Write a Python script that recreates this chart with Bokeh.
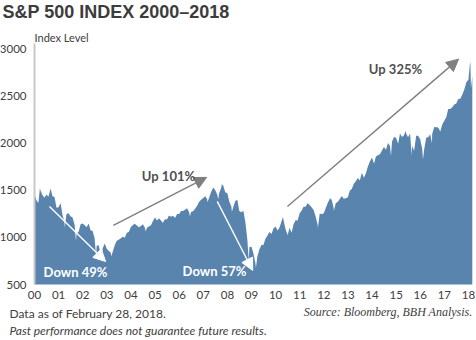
import pandas as pd
from bokeh.plotting import figure
from bokeh.models import Label, Arrow, NormalHead, ColumnDataSource
from bokeh.core.properties import value
from bokeh.embed import file_html
from bokeh.resources import INLINE

# ---------------- data ----------------
first_month_end = "2000-01-31"
monthly_close = [
    1394, 1366, 1499, 1452, 1421, 1455, 1431, 1518, 1437, 1429, 1315, 1320,  # 2000
    1366, 1240, 1160, 1249, 1256, 1224, 1211, 1134, 1041, 1060, 1139, 1148,  # 2001
    1130, 1107, 1147, 1077, 1067, 990, 912, 916, 815, 886, 936, 880,         # 2002
    856, 841, 848, 917, 964, 975, 990, 1008, 996, 1051, 1058, 1112,          # 2003
    1131, 1145, 1126, 1107, 1121, 1141, 1102, 1104, 1115, 1130, 1174, 1212,  # 2004
    1181, 1204, 1181, 1157, 1192, 1191, 1234, 1220, 1229, 1207, 1249, 1248,  # 2005
    1280, 1281, 1295, 1311, 1270, 1270, 1277, 1304, 1336, 1378, 1401, 1418,  # 2006
    1438, 1407, 1421, 1482, 1531, 1503, 1455, 1474, 1527, 1549, 1481, 1468,  # 2007
    1379, 1331, 1323, 1386, 1400, 1280, 1267, 1283, 1165, 969, 896, 903,     # 2008
    826, 735, 798, 873, 919, 919, 987, 1021, 1057, 1036, 1096, 1115,         # 2009
    1074, 1104, 1169, 1187, 1089, 1031, 1102, 1049, 1141, 1183, 1181, 1258,  # 2010
    1286, 1327, 1326, 1364, 1345, 1321, 1292, 1219, 1131, 1253, 1247, 1258,  # 2011
    1312, 1366, 1408, 1398, 1310, 1362, 1379, 1407, 1441, 1412, 1416, 1426,  # 2012
    1498, 1515, 1569, 1598, 1631, 1606, 1686, 1633, 1682, 1757, 1806, 1848,  # 2013
    1783, 1859, 1872, 1884, 1924, 1960, 1931, 2003, 1972, 2018, 2068, 2059,  # 2014
    1995, 2105, 2068, 2086, 2107, 2063, 2104, 1972, 1920, 2079, 2080, 2044,  # 2015
    1940, 1932, 2060, 2065, 2097, 2099, 2174, 2171, 2168, 2126, 2199, 2239,  # 2016
    2279, 2364, 2363, 2384, 2412, 2423, 2470, 2472, 2519, 2575, 2648, 2674,  # 2017
    2824, 2714,                                                              # 2018
]
extreme_dates = [
    "2000-01-03", "2000-03-24", "2000-09-01", "2001-04-04", "2001-09-21",
    "2002-07-23", "2002-10-09", "2003-03-11", "2004-08-12", "2006-06-13",
    "2007-03-05", "2007-08-15", "2007-10-09", "2008-03-10", "2008-11-20",
    "2009-03-09", "2010-04-23", "2010-07-02", "2011-10-03", "2012-04-02",
    "2012-06-01", "2014-10-15", "2015-05-21", "2015-08-25", "2016-02-11",
    "2016-06-27", "2018-01-26", "2018-02-08",
]
extreme_values = [
    1455, 1527, 1520, 1103, 966,
    797, 777, 800, 1064, 1224,
    1374, 1406, 1565, 1273, 752,
    677, 1217, 1022, 1099, 1419,
    1278, 1862, 2131, 1867, 1829,
    2000, 2872, 2581,
]
year_ticks = list(range(2000, 2019))
year_labels = ["00", "01", "02", "03", "04", "05", "06", "07", "08", "09",
               "10", "11", "12", "13", "14", "15", "16", "17", "18"]
level_ticks = [500, 1000, 1500, 2000, 2500, 3000]
level_labels = ["500", "1000", "1500", "2000", "2500", "3000"]

# annotations: (x_start, y_start, x_end, y_end) in years / index level
arrow_down_1 = (2000.62, 1329, 2002.95, 744)
arrow_up_1 = (2003.27, 1127, 2007.14, 1638)
arrow_down_2 = (2007.58, 1383, 2009.05, 649)
arrow_up_2 = (2010.49, 1329, 2017.59, 2894)

# ---------------- build ----------------
def dec_year(ts):
    days = 366 if ts.is_leap_year else 365
    return ts.year + (ts.dayofyear - 1) / days

month_dates = pd.date_range(start=first_month_end, periods=len(monthly_close),
                            freq=pd.offsets.MonthEnd())
df = pd.concat([
    pd.DataFrame({"date": month_dates, "value": monthly_close}),
    pd.DataFrame({"date": pd.to_datetime(extreme_dates), "value": extreme_values}),
]).sort_values("date").reset_index(drop=True)
df["x"] = [dec_year(d) for d in df["date"]]
src = ColumnDataSource(dict(x=df["x"].tolist(), y=df["value"].tolist()))

# The frame spans the whole canvas so that texts outside the data region are
# not clipped; the data region sits at these pixel edges.
W, H = 476, 340
PL, PR, PT, PB = 34, 474, 43, 284
X0, X1 = 2000.0, 2018.25
Y0, Y1 = 500, 3060
xpp = (X1 - X0) / (PR - PL)
ypp = (Y1 - Y0) / (PB - PT)
x_range = (X0 - PL * xpp, X1 + (W - PR) * xpp)
y_range = (Y0 - (H - PB) * ypp, Y1 + PT * ypp)

p = figure(width=W, height=H, output_backend="svg", toolbar_location=None,
           x_range=x_range, y_range=y_range, min_border=0,
           background_fill_color="white", border_fill_color="white")
p.title.visible = False
p.xaxis.visible = False
p.yaxis.visible = False
p.outline_line_color = None
p.grid.visible = False

TXT = "#404040"
FONT = "Lato"

p.varea(x="x", y1=Y0, y2="y", source=src, fill_color="#5884ae")

# y axis line
p.segment(x0=[X0], y0=[Y0], x1=[X0], y1=[Y1], line_color="#c8c8c8", line_width=2)

# tick labels
p.text(x=year_ticks, y=[Y0] * len(year_ticks), text=year_labels,
       y_offset=10, text_align="center", text_baseline="middle",
       text_font=value(FONT), text_font_size="11.5px", text_color=TXT)
p.text(x=[X0] * len(level_ticks), y=level_ticks, text=level_labels,
       x_offset=-8, text_align="right", text_baseline="middle",
       text_font=value(FONT), text_font_size="11.5px", text_color=TXT)

def add_arrow(coords, color, size):
    xs, ys, xe, ye = coords
    p.add_layout(Arrow(x_start=xs, y_start=ys, x_end=xe, y_end=ye,
                       line_color=color, line_width=1.4,
                       end=NormalHead(size=size, fill_color=color,
                                      line_color=color)))

add_arrow(arrow_down_1, "white", 12)
add_arrow(arrow_up_1, "#7f7f7f", 12)
add_arrow(arrow_down_2, "white", 12)
add_arrow(arrow_up_2, "#7f7f7f", 12)

def screen_label(text, px, py, size, color=TXT, font=FONT, style="normal",
                 align="left"):
    p.add_layout(Label(x=px, y=H - py, x_units="screen", y_units="screen",
                       text=text, text_font=font, text_font_size=size,
                       text_color=color, text_font_style=style,
                       text_align=align, text_baseline="middle"))

screen_label("S&P 500 INDEX 2000\u20132018", 2, 11, "18px", color="#3c3c3c",
             font="Liberation Sans", style="bold")
screen_label("Index Level", 34, 37, "11px")
screen_label("Down 49%", 75, 271, "13px", color="white", style="bold", align="center")
screen_label("Up 101%", 168, 175, "13px", color="#505050", style="bold", align="center")
screen_label("Down 57%", 214, 270, "13px", color="white", style="bold", align="center")
screen_label("Up 325%", 395, 68, "13px", color="#505050", style="bold", align="center")
screen_label("Data as of February 28, 2018.", 9, 313, "12px")
screen_label("Past performance does not guarantee future results.", 9, 330,
             "12px", style="italic")
screen_label("Source: Bloomberg, BBH Analysis.", 472, 311, "12px",
             font="Liberation Serif", style="italic", align="right")

open("out.html", "w").write(file_html(p, INLINE))
